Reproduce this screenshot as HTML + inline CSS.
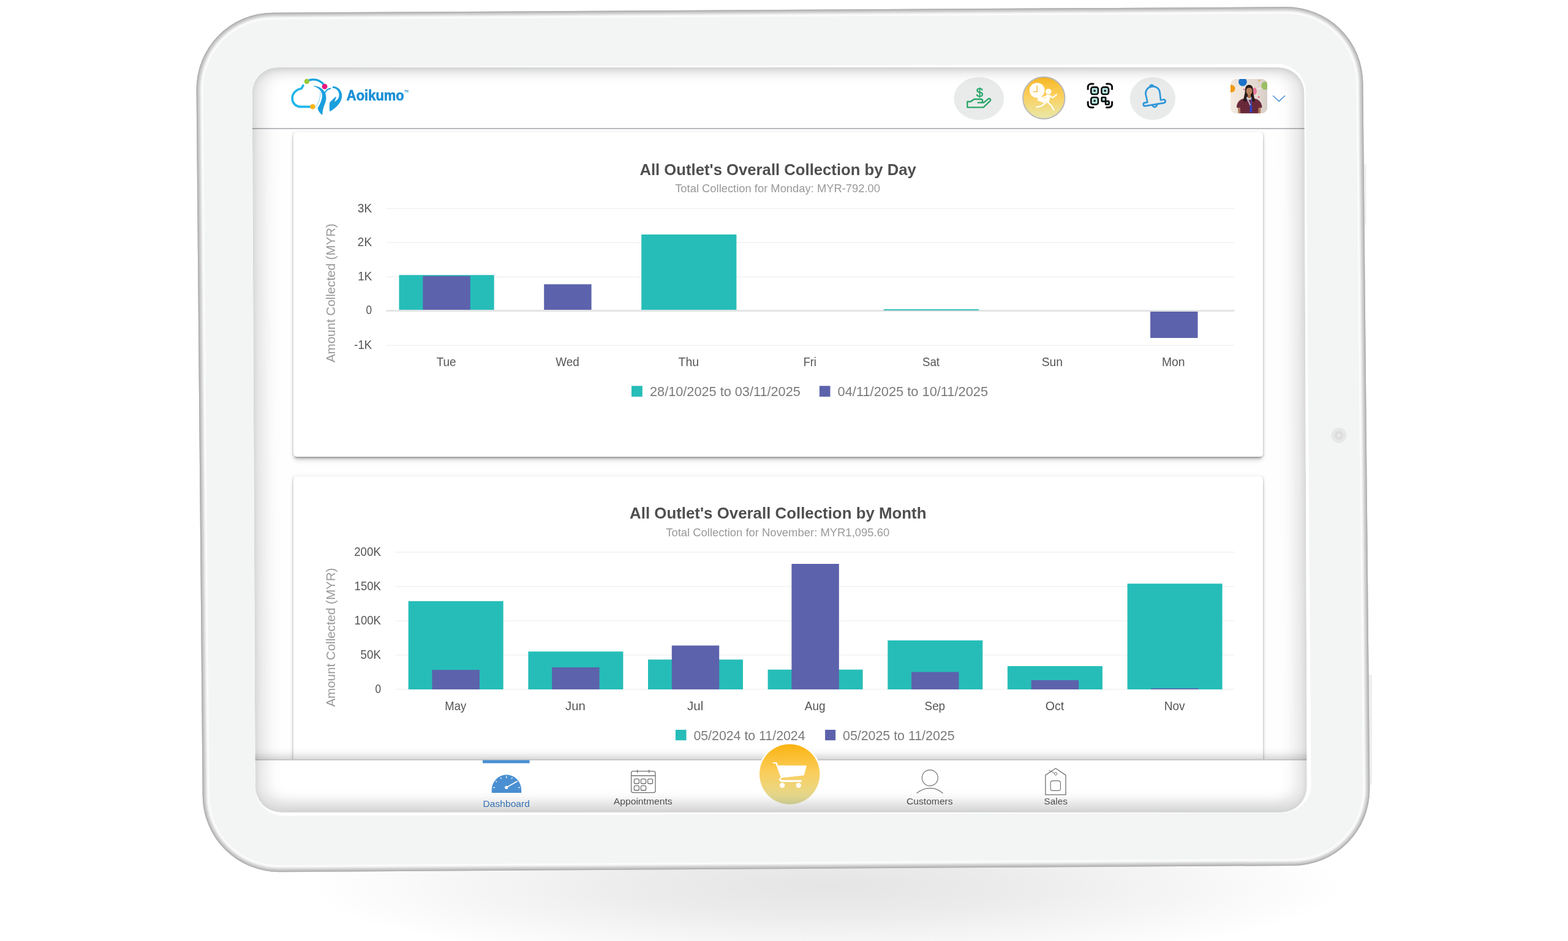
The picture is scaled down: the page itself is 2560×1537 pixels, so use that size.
<!DOCTYPE html>
<html lang="en">
<head>
<meta charset="utf-8">
<title>Aoikumo Dashboard</title>
<style>
*{box-sizing:border-box}
html,body{margin:0;padding:0;width:2560px;height:1537px;overflow:hidden;background:#fff;font-family:"Liberation Sans", Arial, Helvetica, sans-serif}
.abs{position:absolute}
#stage{position:relative;width:2560px;height:1537px;overflow:hidden;background:#fff}
#ground{left:500px;top:1318px;width:1700px;height:260px;background:radial-gradient(ellipse 50% 50% at 50% 50%,rgba(0,0,0,.10) 0%,rgba(0,0,0,.08) 35%,rgba(0,0,0,.035) 70%,rgba(0,0,0,0) 100%)}
#screen{left:405px;top:102px;width:1736px;height:1232px;background:#fefefe;overflow:hidden}
header{left:0;top:0;width:1736px;height:109.2px;background:#fff;border-bottom:2.4px solid #b9b9bf}
.card{background:#fff;border-radius:5px;box-shadow:0 4.7px 1.6px -3.1px rgba(0,0,0,.17),0 3.1px 3.1px 0 rgba(0,0,0,.10),0 1.6px 7.8px 0 rgba(0,0,0,.10),-2.2px 0 .8px -.4px rgba(100,110,125,.09),2.2px 0 .8px -.4px rgba(100,110,125,.09),0 8px 10px -2px rgba(0,0,0,.11)}
#card1{left:74px;top:113.5px;width:1583px;height:530.5px}
#card2{left:74px;top:675.5px;width:1583px;height:560px}
nav{left:0;top:1137.6px;width:1736px;height:95px;background:#fff;border-top:2.6px solid #c7c7c9}
#navshade{left:0;top:1119.6px;width:1736px;height:18px;background:linear-gradient(to bottom,rgba(0,0,0,0),rgba(0,0,0,.03) 40%,rgba(0,0,0,.15))}
.navitem{position:absolute;text-align:center;font-size:15.6px;color:#555;white-space:nowrap}
svg{position:absolute;left:0;top:0;overflow:visible}
svg text{font-family:"Liberation Sans", Arial, Helvetica, sans-serif}
</style>
</head>
<body>
<div id="stage">
<div id="ground" class="abs"></div>
<div id="screen" class="abs">
  <header class="abs"></header>
  <div id="card1" class="card abs"></div>
  <div id="card2" class="card abs"></div>
  <div id="navshade" class="abs"></div>
  <nav class="abs"></nav>
</div>

<svg id="content" width="2560" height="1537" viewBox="0 0 2560 1537">
<defs>
<linearGradient id="gold" x1="0" y1="0" x2="0" y2="1"><stop offset="0" stop-color="#f8b824"/><stop offset=".45" stop-color="#fbcf5c"/><stop offset="1" stop-color="#e8e9ab"/></linearGradient>
<linearGradient id="gold2" x1="0" y1="0" x2="0" y2="1"><stop offset="0" stop-color="#fbb311"/><stop offset=".45" stop-color="#fbcd59"/><stop offset="1" stop-color="#dfdd9f"/></linearGradient>
<clipPath id="avc"><rect x="2009" y="129" width="60" height="56.3" rx="9.5"/></clipPath>
<linearGradient id="avbg" x1="0" y1="0" x2="1" y2="0"><stop offset="0" stop-color="#f6ece2" stop-opacity=".9"/><stop offset=".4" stop-color="#f1e6dc" stop-opacity=".6"/><stop offset="1" stop-color="#d5cbc6" stop-opacity=".9"/></linearGradient>
</defs>
<g id="logo">
<path d="M494.9 139.6L492.3 144.5C483.6 146.2 477.2 152.2 477.2 160.3C477.2 168.6 482.8 174.3 491 174.3L507 174.3" fill="none" stroke="#1fb6ea" stroke-width="3.7" stroke-linecap="round" stroke-linejoin="round"/>
<path d="M503 131.7C512.5 127.6 523 130.6 529.3 139.2" fill="none" stroke="#17a6e1" stroke-width="3.4" stroke-linecap="round"/>
<path d="M510.6 140.3C518 139.6 526.3 143.6 530.2 150.6C534.3 158 532.3 166 529.3 172.6C527.3 177.3 526.6 182.6 526.3 188C522 185.3 519.3 181 518.6 176.6C522.3 170.6 525.3 164.3 526 157.6C526.6 150.3 521.6 143.6 510.6 140.3Z" fill="#1a9fdd"/>
<path d="M522.6 150.5C523.6 158 521 166.5 515.6 175" fill="none" stroke="#5cc4ee" stroke-width="1.6" stroke-dasharray="1.6 1.5"/>
<path d="M531 150.8C532.6 147.6 535.6 145.3 539.6 144.6" fill="none" stroke="#1a9fdd" stroke-width="2" stroke-linecap="round"/>
<path d="M543 141C551.6 140.6 558.3 147.6 558.3 156.6C558.3 167.6 548.3 176.6 538.6 182.3C537.6 177 537.6 171.6 538.3 167.3L548.6 157.3C548.6 160.6 547.6 163.6 545.6 166.3C550.3 164.6 553.6 160.3 553.6 155C553.6 148.6 549.3 144.3 543 143.8Z" fill="#1a9fdd"/>
<circle cx="500.9" cy="133" r="4.2" fill="#9dca3c"/>
<circle cx="530.1" cy="141.3" r="4.4" fill="#e6197f"/>
<circle cx="510.5" cy="174.2" r="4.2" fill="#fbb417"/>
<text x="565.8" y="164.4" font-size="24.7" font-weight="bold" fill="#1a8fd5" stroke="#1a8fd5" stroke-width=".7" textLength="94" lengthAdjust="spacingAndGlyphs">Aoikumo</text>
<text x="660.3" y="150.6" font-size="4.6" font-weight="bold" fill="#1a8fd5">TM</text>
</g>
<g id="hdr-icons">
<ellipse cx="1598.2" cy="160.9" rx="41" ry="35" fill="#e9ebeb"/>
<path d="M1596.6 167.6L1601.4 167.6A2.8 2.8 0 0 0 1601.4 162L1590.4 162L1584.8 166L1579.3 166L1579.3 175.3L1605.6 175.3L1616.5 164.9A2.2 2.2 0 0 0 1613.4 161.7L1606 167.6L1601.4 167.6" fill="none" stroke="#27a567" stroke-width="2.3" stroke-linejoin="round" stroke-linecap="round"/>
<text x="1599.5" y="157.6" font-size="20.5" fill="#27a567" stroke="#27a567" stroke-width=".5" text-anchor="middle">$</text>
<circle cx="1704.3" cy="159.9" r="34.2" fill="url(#gold)" stroke="#bcbcbc" stroke-width="2.1"/>
<g fill="#fffdf6" stroke="none">
<circle cx="1693.2" cy="147.6" r="12.4"/>
<circle cx="1711.8" cy="149.6" r="4.7"/>
<path d="M1708 154.5L1715.6 155.5L1712.4 167.6L1706.2 166.4Z"/>
<rect x="-6.4" y="-4" width="12.8" height="8" rx="1" transform="translate(1700.6 162.6) rotate(22)"/>
</g>
<g fill="none" stroke="#fffdf6" stroke-width="2.3" stroke-linecap="round" stroke-linejoin="round">
<path d="M1714.4 156.6L1718.6 159.6L1725 154.4"/>
<path d="M1708.6 167L1700 173.2L1692.4 174.8"/>
<path d="M1711 167.6L1716 171.8L1720.6 179.6"/>
<path d="M1709 157L1703.4 159"/>
</g>
<path d="M1693.2 140.2L1693.2 149.8L1686.8 149.8" fill="none" stroke="#f5c048" stroke-width="1.6"/>
<g fill="none" stroke="#0d0d0d" stroke-width="3" stroke-linecap="round">
<path d="M1776.2 145.6L1776.2 142.2A5.2 5.2 0 0 1 1781.4 137L1785 137"/>
<path d="M1806.6 137L1810.4 137A5.2 5.2 0 0 1 1815.6 142.2L1815.6 145.6"/>
<path d="M1815.6 166.6L1815.6 170.2A5.2 5.2 0 0 1 1810.4 175.4L1806.6 175.4"/>
<path d="M1785 175.4L1781.4 175.4A5.2 5.2 0 0 1 1776.2 170.2L1776.2 166.6"/>
</g>
<g fill="#b6e6e1" stroke="#0d0d0d" stroke-width="2.6">
<rect x="1781.3" y="142.4" width="11.6" height="11.6" rx="3.2"/>
<rect x="1798.4" y="142.4" width="11.6" height="11.6" rx="3.2"/>
<rect x="1781.3" y="159" width="11.6" height="11.6" rx="3.2"/>
<rect x="1798.6" y="159" width="6.6" height="6.6" rx="1"/>
<rect x="1805" y="165.2" width="5.6" height="5.6" rx="1"/>
</g>
<g fill="#0d0d0d"><circle cx="1787.1" cy="148.2" r="1.8"/><circle cx="1804.2" cy="148.2" r="1.8"/><circle cx="1787.1" cy="164.8" r="1.8"/></g>
<ellipse cx="1881.9" cy="160.9" rx="37.2" ry="35" fill="#e9ebeb"/>
<g transform="translate(1882.8 156.8) rotate(-9.5)" fill="none" stroke="#2f96d9" stroke-width="2.7" stroke-linejoin="round" stroke-linecap="round">
<path d="M-11 8.6C-11 3 -11.6 -1 -11.6 -4.6C-11.6 -11 -6.6 -15.6 0 -15.6C6.6 -15.6 11.6 -11 11.6 -4.6C11.6 -1 11 3 11 8.6L15.4 8.6A2.7 2.7 0 0 1 15.4 14L-15.4 14A2.7 2.7 0 0 1 -15.4 8.6Z"/>
<path d="M-3.6 14.6A3.6 3.6 0 0 0 3.6 14.6"/>
<path d="M-3 -15.2A3 3 0 0 1 3 -15.2"/>
</g>
<g clip-path="url(#avc)">
<rect x="2009" y="129" width="60" height="56.4" fill="#e6dbd3"/>
<rect x="2009" y="129" width="60" height="56.4" fill="url(#avbg)"/>
<path d="M2016 146.6L2027 140M2046 146L2062 143.6M2050 155L2056 159" stroke="#f4eeea" stroke-width="1" fill="none"/>
<circle cx="2028.9" cy="133.8" r="6.9" fill="#1b74ca"/>
<circle cx="2065.8" cy="140" r="6.6" fill="#9dbe64"/>
<circle cx="2010.4" cy="144.8" r="6.2" fill="#f39b18"/>
<ellipse cx="2048.3" cy="148.8" rx="3.6" ry="5.8" fill="#e87a9a"/>
<circle cx="2055.9" cy="131.6" r="1.5" fill="#eeb148"/>
<circle cx="2031" cy="145.9" r="1.2" fill="#e4608c"/>
<circle cx="2055" cy="158.6" r="1.5" fill="#e4608c"/>
<path d="M2019.2 172.4C2020.6 165.8 2024.8 161.8 2031.8 160.4L2039.6 163.2L2047.2 160.4C2054.4 161.8 2058.8 165.8 2060.2 172.4L2060.4 175.8L2054.8 176.6L2054.8 185.6L2024.6 185.6L2024.6 176.6L2019 175.8Z" fill="#6c2b3c"/>
<path d="M2021 176.2L2024.8 176.6L2025.4 185.6L2021.6 185.6ZM2054.6 176.6L2058.6 176.2L2058 185.6L2054.2 185.6Z" fill="#b07c5b"/>
<path d="M2024 168H2056M2022 172H2058M2025 176.4H2054.6M2025 180.6H2054.6" stroke="#5a2231" stroke-width=".8" fill="none"/>
<path d="M2032.7 150.4C2032.3 142.2 2034.9 138.4 2039.4 138.4C2044 138.4 2046.3 142.2 2046 150.4L2048.9 165.6L2044.4 166.2L2042.6 158L2036.4 158L2034.4 166.2L2029.6 165.6Z" fill="#2a1b19"/>
<rect x="2037" y="153.6" width="5" height="6.6" fill="#a67252"/>
<ellipse cx="2039.5" cy="148.5" rx="5" ry="6.4" fill="#b9845f"/>
<path d="M2034.5 146C2035.6 142.4 2037.6 141.2 2039.6 141.2C2041.8 141.2 2043.8 142.6 2044.6 146C2043 143.8 2041.4 143.2 2039.6 143.2C2037.8 143.2 2036 143.8 2034.5 146Z" fill="#2a1b19"/>
<path d="M2035.4 158.8L2041.6 172.4" stroke="#c9d2f0" stroke-width="1.6" fill="none"/>
<path d="M2043.4 160L2042.4 172.4" stroke="#4a52c8" stroke-width="1.6" fill="none"/>
<rect x="2040.4" y="172" width="3.8" height="11.8" rx=".8" fill="#2f42c6"/>
</g>
<path d="M2078.2 156.2L2088.1 165.4L2098 156.2" fill="none" stroke="#4a92db" stroke-width="1.5"/>
</g>
<g id="chart-day">
<rect x="630.5" y="339.9" width="1384.8" height="1.3" fill="#efefef"/>
<text x="583.8" y="346.5" font-size="21" fill="#555" text-anchor="start" textLength="23.4" lengthAdjust="spacingAndGlyphs">3K</text>
<rect x="630.5" y="395.7" width="1384.8" height="1.3" fill="#efefef"/>
<text x="583.8" y="402.3" font-size="21" fill="#555" text-anchor="start" textLength="23.4" lengthAdjust="spacingAndGlyphs">2K</text>
<rect x="630.5" y="451.6" width="1384.8" height="1.3" fill="#efefef"/>
<text x="584.2" y="458.2" font-size="21" fill="#555" text-anchor="start" textLength="23.0" lengthAdjust="spacingAndGlyphs">1K</text>
<rect x="630.5" y="506.2" width="1384.8" height="2.8" fill="#e1e2e3"/>
<text x="597.6" y="513.0" font-size="21" fill="#555" text-anchor="start" textLength="9.6" lengthAdjust="spacingAndGlyphs">0</text>
<rect x="630.5" y="563.6" width="1384.8" height="1.3" fill="#efefef"/>
<text x="578.2" y="570.2" font-size="21" fill="#555" text-anchor="start" textLength="29.0" lengthAdjust="spacingAndGlyphs">-1K</text>
<rect x="651.5" y="449.2" width="155.2" height="56.8" fill="#26bdb8"/>
<rect x="690.4" y="450.8" width="77.4" height="55.2" fill="#5c62ab"/>
<text x="712.7" y="598.1" font-size="21" fill="#555" text-anchor="start" textLength="32.0" lengthAdjust="spacingAndGlyphs">Tue</text>
<rect x="888.2" y="464.3" width="77.4" height="41.7" fill="#5c62ab"/>
<text x="907.3" y="598.1" font-size="21" fill="#555" text-anchor="start" textLength="38.5" lengthAdjust="spacingAndGlyphs">Wed</text>
<rect x="1047.2" y="383.0" width="155.2" height="123.0" fill="#26bdb8"/>
<text x="1107.6" y="598.1" font-size="21" fill="#555" text-anchor="start" textLength="33.5" lengthAdjust="spacingAndGlyphs">Thu</text>
<text x="1311.7" y="598.1" font-size="21" fill="#555" text-anchor="start" textLength="21.1" lengthAdjust="spacingAndGlyphs">Fri</text>
<rect x="1442.8" y="505.2" width="155.2" height="1.8" fill="#26bdb8"/>
<text x="1506.0" y="598.1" font-size="21" fill="#555" text-anchor="start" textLength="28.0" lengthAdjust="spacingAndGlyphs">Sat</text>
<text x="1700.7" y="598.1" font-size="21" fill="#555" text-anchor="start" textLength="34.4" lengthAdjust="spacingAndGlyphs">Sun</text>
<rect x="1878.1" y="509" width="77.4" height="43" fill="#5c62ab"/>
<text x="1896.9" y="598.1" font-size="21" fill="#555" text-anchor="start" textLength="37.6" lengthAdjust="spacingAndGlyphs">Mon</text>
<text transform="translate(547.3 478.5) rotate(-90)" x="-113.6" y="0" font-size="21" fill="#999" textLength="227" lengthAdjust="spacingAndGlyphs">Amount Collected (MYR)</text>
<text x="1044.4" y="285.7" font-size="26.4" fill="#4f4f4f" text-anchor="start" font-weight="bold" textLength="451.4" lengthAdjust="spacingAndGlyphs">All Outlet's Overall Collection by Day</text>
<text x="1102.2" y="314.1" font-size="17.6" fill="#999" text-anchor="start" textLength="334.8" lengthAdjust="spacingAndGlyphs">Total Collection for Monday: MYR-792.00</text>
<rect x="1031" y="630.3" width="17.8" height="17.6" fill="#26bdb8"/>
<text x="1061.0" y="647.0" font-size="22.4" fill="#7b7b7b" text-anchor="start" textLength="245.8" lengthAdjust="spacingAndGlyphs">28/10/2025 to 03/11/2025</text>
<rect x="1337.9" y="630.3" width="17.6" height="17.6" fill="#5c62ab"/>
<text x="1367.6" y="647.0" font-size="22.4" fill="#7b7b7b" text-anchor="start" textLength="245.5" lengthAdjust="spacingAndGlyphs">04/11/2025 to 10/11/2025</text>
</g>
<g id="chart-month">
<rect x="645.8" y="901.3" width="1369.5" height="1.3" fill="#efefef"/>
<text x="578.2" y="907.9" font-size="21" fill="#555" text-anchor="start" textLength="43.8" lengthAdjust="spacingAndGlyphs">200K</text>
<rect x="645.8" y="957.4" width="1369.5" height="1.3" fill="#efefef"/>
<text x="578.6" y="964.0" font-size="21" fill="#555" text-anchor="start" textLength="43.4" lengthAdjust="spacingAndGlyphs">150K</text>
<rect x="645.8" y="1013.4" width="1369.5" height="1.3" fill="#efefef"/>
<text x="578.6" y="1020.0" font-size="21" fill="#555" text-anchor="start" textLength="43.4" lengthAdjust="spacingAndGlyphs">100K</text>
<rect x="645.8" y="1069.2" width="1369.5" height="1.3" fill="#efefef"/>
<text x="588.6" y="1075.8" font-size="21" fill="#555" text-anchor="start" textLength="33.4" lengthAdjust="spacingAndGlyphs">50K</text>
<rect x="645.8" y="1125.2" width="1369.5" height="1.3" fill="#efefef"/>
<text x="612.4" y="1131.8" font-size="21" fill="#555" text-anchor="start" textLength="9.6" lengthAdjust="spacingAndGlyphs">0</text>
<rect x="666.7" y="981.9" width="155" height="144.1" fill="#26bdb8"/>
<rect x="705.5" y="1094.2" width="77.4" height="31.8" fill="#5c62ab"/>
<text x="726.3" y="1160.1" font-size="21" fill="#555" text-anchor="start" textLength="35.0" lengthAdjust="spacingAndGlyphs">May</text>
<rect x="862.4" y="1064.2" width="155" height="61.8" fill="#26bdb8"/>
<rect x="901.2" y="1090.0" width="77.4" height="36.0" fill="#5c62ab"/>
<text x="923.1" y="1160.1" font-size="21" fill="#555" text-anchor="start" textLength="32.8" lengthAdjust="spacingAndGlyphs">Jun</text>
<rect x="1058.0" y="1077.3" width="155" height="48.7" fill="#26bdb8"/>
<rect x="1096.8" y="1054.4" width="77.4" height="71.6" fill="#5c62ab"/>
<text x="1122.0" y="1160.1" font-size="21" fill="#555" text-anchor="start" textLength="26.2" lengthAdjust="spacingAndGlyphs">Jul</text>
<rect x="1253.6" y="1093.7" width="155" height="32.3" fill="#26bdb8"/>
<rect x="1292.4" y="921.0" width="77.4" height="205.0" fill="#5c62ab"/>
<text x="1313.8" y="1160.1" font-size="21" fill="#555" text-anchor="start" textLength="33.8" lengthAdjust="spacingAndGlyphs">Aug</text>
<rect x="1449.3" y="1046.0" width="155" height="80.0" fill="#26bdb8"/>
<rect x="1488.1" y="1097.6" width="77.4" height="28.4" fill="#5c62ab"/>
<text x="1509.6" y="1160.1" font-size="21" fill="#555" text-anchor="start" textLength="33.5" lengthAdjust="spacingAndGlyphs">Sep</text>
<rect x="1644.9" y="1088.0" width="155" height="38.0" fill="#26bdb8"/>
<rect x="1683.7" y="1111.0" width="77.4" height="15.0" fill="#5c62ab"/>
<text x="1706.7" y="1160.1" font-size="21" fill="#555" text-anchor="start" textLength="30.6" lengthAdjust="spacingAndGlyphs">Oct</text>
<rect x="1840.6" y="953.3" width="155" height="172.7" fill="#26bdb8"/>
<rect x="1879.4" y="1124.3" width="77.4" height="1.7" fill="#5c62ab"/>
<text x="1900.7" y="1160.1" font-size="21" fill="#555" text-anchor="start" textLength="33.9" lengthAdjust="spacingAndGlyphs">Nov</text>
<text transform="translate(547.3 1041) rotate(-90)" x="-113.6" y="0" font-size="21" fill="#999" textLength="227" lengthAdjust="spacingAndGlyphs">Amount Collected (MYR)</text>
<text x="1028.1" y="846.9" font-size="26.4" fill="#4f4f4f" text-anchor="start" font-weight="bold" textLength="484.4" lengthAdjust="spacingAndGlyphs">All Outlet's Overall Collection by Month</text>
<text x="1087.2" y="875.7" font-size="17.6" fill="#999" text-anchor="start" textLength="365.0" lengthAdjust="spacingAndGlyphs">Total Collection for November: MYR1,095.60</text>
<rect x="1102.9" y="1192" width="17.6" height="17.2" fill="#26bdb8"/>
<text x="1132.4" y="1208.5" font-size="22.4" fill="#7b7b7b" text-anchor="start" textLength="182.2" lengthAdjust="spacingAndGlyphs">05/2024 to 11/2024</text>
<rect x="1347.1" y="1192" width="17" height="17.2" fill="#5c62ab"/>
<text x="1376.0" y="1208.5" font-size="22.4" fill="#7b7b7b" text-anchor="start" textLength="182.6" lengthAdjust="spacingAndGlyphs">05/2025 to 11/2025</text>
</g>
<g id="nav-items">
<rect x="788" y="1241.6" width="76.6" height="5" fill="#4a8fd1"/>
<path d="M802.8 1295L802.8 1292.6C802 1278 812.6 1265.5 827 1265.5C841.4 1265.5 852 1278 851.2 1292.6L851.2 1295Z" fill="#4a8fd1"/>
<g stroke="#fff" stroke-width="1.3" stroke-linecap="round" fill="none">
<path d="M826.8 1286.2L844.2 1276.2" stroke-width="1.7"/>
<path d="M805.6 1286.4L807.6 1286.4M846.6 1286.4L848.6 1286.4M826.8 1268L826.8 1270.4M809.6 1276.2L811 1277M817.6 1270.4L818.4 1271.8M836.2 1270.4L835.4 1271.8"/>
</g>
<circle cx="826.8" cy="1286.2" r="2.6" fill="#fff"/>
<text x="788.4" y="1318.1" font-size="15.3" fill="#3d7fc6" textLength="76.6" lengthAdjust="spacingAndGlyphs">Dashboard</text>
<g fill="none" stroke="#707070" stroke-width="1.3">
<rect x="1030.6" y="1259.6" width="39.4" height="35" rx="3"/>
<path d="M1030.6 1267L1070 1267M1040.6 1257.2L1040.6 1262.6M1059.7 1257.2L1059.7 1262.6"/>
<rect x="1035.4" y="1272.4" width="8" height="7.6" rx="2"/><rect x="1046.4" y="1272.4" width="8.2" height="7.6" rx="2"/><rect x="1057.6" y="1272.4" width="8" height="7.6" rx="2"/>
<rect x="1035.4" y="1283.4" width="8" height="7.6" rx="2"/><rect x="1046.4" y="1283.4" width="8.2" height="7.6" rx="2"/>
</g>
<text x="1001.8" y="1314.1" font-size="15.3" fill="#555" textLength="95.8" lengthAdjust="spacingAndGlyphs">Appointments</text>
<circle cx="1289.2" cy="1264.6" r="51.6" fill="#fff"/>
<circle cx="1289.2" cy="1264.6" r="49.2" fill="url(#gold2)"/>
<g fill="#fff">
<path d="M1261.6 1244.8L1268.6 1245.6L1270 1250.2L1317 1250.6L1312.6 1266.6L1276.4 1270.6L1274 1272.6L1276.6 1274.2L1308.8 1274.2L1308.8 1277.2L1275 1277.2L1271.6 1273.4L1274.6 1269.4L1266.6 1247.4L1261.8 1246.6Z"/>
<circle cx="1277.2" cy="1282.8" r="4.1"/><circle cx="1303.8" cy="1282.8" r="4.1"/>
</g>
<g fill="none" stroke="#707070" stroke-width="1.15">
<circle cx="1518.3" cy="1270.6" r="13"/>
<path d="M1496.6 1295.8C1510 1284.6 1526.6 1284.6 1539.4 1295.8"/>
<path d="M1706.9 1298.2L1706.9 1266.2L1723.5 1255L1740 1266.2L1740 1298.2Z" stroke-width="1.3"/>
<rect x="1715.2" y="1275.4" width="16.2" height="16" rx="3.4"/>
<circle cx="1723.6" cy="1263.8" r="2.2" stroke-width="1"/>
<path d="M1712.6 1258.2L1721.6 1263" stroke-width="1"/>
</g>
<text x="1480" y="1314.1" font-size="15.3" fill="#555" textLength="75.6" lengthAdjust="spacingAndGlyphs">Customers</text>
<text x="1704.6" y="1314.1" font-size="15.3" fill="#555" textLength="38.2" lengthAdjust="spacingAndGlyphs">Sales</text>
</g>
</svg>

<svg id="device" width="2560" height="1537" viewBox="0 0 2560 1537">
<defs>
<clipPath id="oc"><path d="M320.60 146.40A125 125 0 0 1 444.50 20.69L2099.20 11.31A125 125 0 0 1 2225.39 135.59L2236.31 1288.11A125 125 0 0 1 2112.50 1413.88L456.80 1424.22A125 125 0 0 1 330.70 1300.00Z"/></clipPath>
<clipPath id="fc"><path d="M0 0H2560V1537H0ZM411.68 152.00A42 42 0 0 1 453.50 110.00L2087.50 110.00A42 42 0 0 1 2129.66 152.00L2133.84 1285.00A42 42 0 0 1 2092.00 1327.00L458.80 1327.00A42 42 0 0 1 416.62 1285.00Z" clip-rule="evenodd"/></clipPath>
<clipPath id="sc"><path d="M411.68 152.00A42 42 0 0 1 453.50 110.00L2087.50 110.00A42 42 0 0 1 2129.66 152.00L2133.84 1285.00A42 42 0 0 1 2092.00 1327.00L458.80 1327.00A42 42 0 0 1 416.62 1285.00Z"/></clipPath>
<filter id="blur" x="-5%" y="-5%" width="110%" height="110%"><feGaussianBlur stdDeviation="15 10"/></filter>
<filter id="blur3" x="-5%" y="-5%" width="110%" height="110%"><feGaussianBlur stdDeviation="3.5"/></filter>
<filter id="blur2" x="-5%" y="-5%" width="110%" height="110%"><feGaussianBlur stdDeviation="1.2"/></filter>
</defs>
<g clip-path="url(#sc)">
<path d="M411.68 152.00A42 42 0 0 1 453.50 110.00L2087.50 110.00A42 42 0 0 1 2129.66 152.00L2133.84 1285.00A42 42 0 0 1 2092.00 1327.00L458.80 1327.00A42 42 0 0 1 416.62 1285.00Z" fill="none" stroke="#000" stroke-opacity=".16" stroke-width="24" filter="url(#blur)" transform="translate(0 -4.5)"/>
<path d="M411.68 152.00A42 42 0 0 1 453.50 110.00L2087.50 110.00A42 42 0 0 1 2129.66 152.00L2133.84 1285.00A42 42 0 0 1 2092.00 1327.00L458.80 1327.00A42 42 0 0 1 416.62 1285.00Z" fill="none" stroke="#000" stroke-opacity=".08" stroke-width="7" filter="url(#blur3)"/>
</g>
<rect x="2232" y="1102" width="8" height="180" rx="3" fill="#eeeeee"/>
<rect x="2224" y="268" width="6.5" height="100" rx="3" fill="#efefef"/>
<path d="M320.60 146.40A125 125 0 0 1 444.50 20.69L2099.20 11.31A125 125 0 0 1 2225.39 135.59L2236.31 1288.11A125 125 0 0 1 2112.50 1413.88L456.80 1424.22A125 125 0 0 1 330.70 1300.00ZM411.68 152.00A42 42 0 0 1 453.50 110.00L2087.50 110.00A42 42 0 0 1 2129.66 152.00L2133.84 1285.00A42 42 0 0 1 2092.00 1327.00L458.80 1327.00A42 42 0 0 1 416.62 1285.00Z" fill="#f3f5f5" fill-rule="evenodd"/>
<g clip-path="url(#oc)">
<path d="M320.60 146.40A125 125 0 0 1 444.50 20.69L2099.20 11.31A125 125 0 0 1 2225.39 135.59L2236.31 1288.11A125 125 0 0 1 2112.50 1413.88L456.80 1424.22A125 125 0 0 1 330.70 1300.00Z" fill="none" stroke="#fcfcfc" stroke-width="22"/>
<path d="M320.60 146.40A125 125 0 0 1 444.50 20.69L2099.20 11.31A125 125 0 0 1 2225.39 135.59L2236.31 1288.11A125 125 0 0 1 2112.50 1413.88L456.80 1424.22A125 125 0 0 1 330.70 1300.00Z" fill="none" stroke="#e4e4e4" stroke-width="15" filter="url(#blur2)"/>
<path d="M320.60 146.40A125 125 0 0 1 444.50 20.69L2099.20 11.31A125 125 0 0 1 2225.39 135.59L2236.31 1288.11A125 125 0 0 1 2112.50 1413.88L456.80 1424.22A125 125 0 0 1 330.70 1300.00Z" fill="none" stroke="#c6c6c6" stroke-width="9.5" filter="url(#blur2)"/>
<path d="M320.60 146.40A125 125 0 0 1 444.50 20.69L2099.20 11.31A125 125 0 0 1 2225.39 135.59L2236.31 1288.11A125 125 0 0 1 2112.50 1413.88L456.80 1424.22A125 125 0 0 1 330.70 1300.00Z" fill="none" stroke="#b2b2b2" stroke-width="4"/>
</g>
<g clip-path="url(#fc)"><path d="M411.70 156.00A46 46 0 0 1 457.50 109.85L2085.50 104.55A46 46 0 0 1 2131.86 150.40L2140.64 1281.00A46 46 0 0 1 2095.00 1327.15L462.80 1332.45A46 46 0 0 1 416.60 1286.60Z" fill="#fff"/></g>
<circle cx="2186" cy="711" r="12.5" fill="#e6e7e7"/><circle cx="2186" cy="711" r="7" fill="#dcdcdc"/><circle cx="2186" cy="711" r="3.2" fill="#e8e8e8"/>
</svg>
</div>
</body>
</html>
